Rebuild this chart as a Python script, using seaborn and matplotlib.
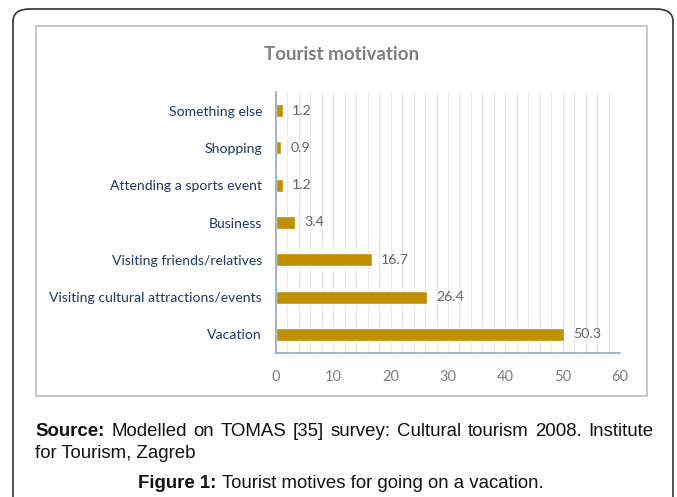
import matplotlib
matplotlib.use("Agg")
import matplotlib.pyplot as plt
import seaborn as sns
import pandas as pd
from matplotlib.patches import FancyBboxPatch, Rectangle
from matplotlib.ticker import MultipleLocator

# data
motives = ["Something else", "Shopping", "Attending a sports event", "Business",
           "Visiting friends/relatives", "Visiting cultural attractions/events", "Vacation"]
shares = [1.2, 0.9, 1.2, 3.4, 16.7, 26.4, 50.3]
x_ticks = [0, 10, 20, 30, 40, 50, 60]

df = pd.DataFrame({"motive": motives, "share": shares})

sns.set_theme(style="white")
plt.rcParams["font.family"] = ["Lato", "DejaVu Sans"]

W, H = 677, 497
fig = plt.figure(figsize=(W / 100, H / 100), dpi=100)

# outer rounded frame and inner chart frame
fig.patches.append(FancyBboxPatch((13 / W, -0.05), (673 - 13) / W, (H - 9) / H + 0.05,
                                  boxstyle="round,pad=0,rounding_size=0.025",
                                  transform=fig.transFigure, fill=False,
                                  edgecolor="#333333", linewidth=1.2, zorder=0))
fig.patches.append(Rectangle((36 / W, 1 - 396 / H), (647 - 36) / W, (396 - 26) / H,
                             transform=fig.transFigure, fill=False,
                             edgecolor="#bfbfbf", linewidth=1.2, zorder=0))

ax = fig.add_axes([276 / W, 1 - 353 / H, (620 - 276) / W, (353 - 92) / H])
sns.barplot(data=df, x="share", y="motive", order=motives, color="#bf8f00",
            width=0.35, saturation=1, ax=ax)

ax.set_xlim(0, 60)
ax.set_ylim(6.5, -0.5)
ax.xaxis.set_minor_locator(MultipleLocator(2))
ax.grid(True, axis="x", which="both", color="#e8e8e8", linewidth=0.7)
ax.set_axisbelow(True)
ax.set_xlabel("")
ax.set_ylabel("")
ax.set_xticks(x_ticks)
ax.set_xticklabels([str(t) for t in x_ticks])

for side in ["top", "right"]:
    ax.spines[side].set_visible(False)
for side in ["left", "bottom"]:
    ax.spines[side].set_color("#8ea9c8")
    ax.spines[side].set_linewidth(1.2)

ax.tick_params(axis="x", which="both", length=0, labelsize=10.5, labelcolor="#7f7f7f", pad=12)
ax.tick_params(axis="y", length=0, labelsize=10.1, labelcolor="#203864", pad=10)

for i, v in enumerate(shares):
    ax.text(v + 1.6, i, f"{v}", va="center", ha="left", fontsize=10.2, color="#666666")

fig.text(341 / W, 1 - 55 / H, "Tourist motivation", ha="center", va="center",
         fontsize=13.5, fontweight="bold", color="#7f7f7f")

# caption, laid out word by word so the first line is justified
cap = ["Liberation Sans", "DejaVu Sans"]
cs = 13.4
renderer = fig.canvas.get_renderer()


def width_px(t):
    return t.get_window_extent(renderer).width


src = fig.text(35 / W, 1 - 432 / H, "Source:", ha="left", va="center", fontsize=cs,
               fontweight="bold", family=cap, color="#111111")
words = "Modelled on TOMAS [35] survey: Cultural tourism 2008. Institute".split()
arts = [fig.text(0, 1 - 432 / H, w, ha="left", va="center", fontsize=cs,
                 family=cap, color="#111111") for w in words]
x0 = 35 + width_px(src) + 7
x1 = 653
widths = [width_px(a) for a in arts]
gap = (x1 - x0 - sum(widths)) / (len(words) - 1)
x = x0
for a, w in zip(arts, widths):
    a.set_x(x / W)
    x += w + gap

fig.text(35 / W, 1 - 453 / H, "for Tourism, Zagreb", ha="left", va="center",
         fontsize=cs, family=cap, color="#111111")

fb = fig.text(0, 1 - 484 / H, "Figure 1:", ha="left", va="center", fontsize=cs,
              fontweight="bold", family=cap, color="#111111")
fr = fig.text(0, 1 - 484 / H, "Tourist motives for going on a vacation.", ha="left",
              va="center", fontsize=cs, family=cap, color="#111111")
total = width_px(fb) + 5 + width_px(fr)
start = 341 - total / 2
fb.set_x(start / W)
fr.set_x((start + width_px(fb) + 5) / W)

fig.savefig("out.png", dpi=100)
